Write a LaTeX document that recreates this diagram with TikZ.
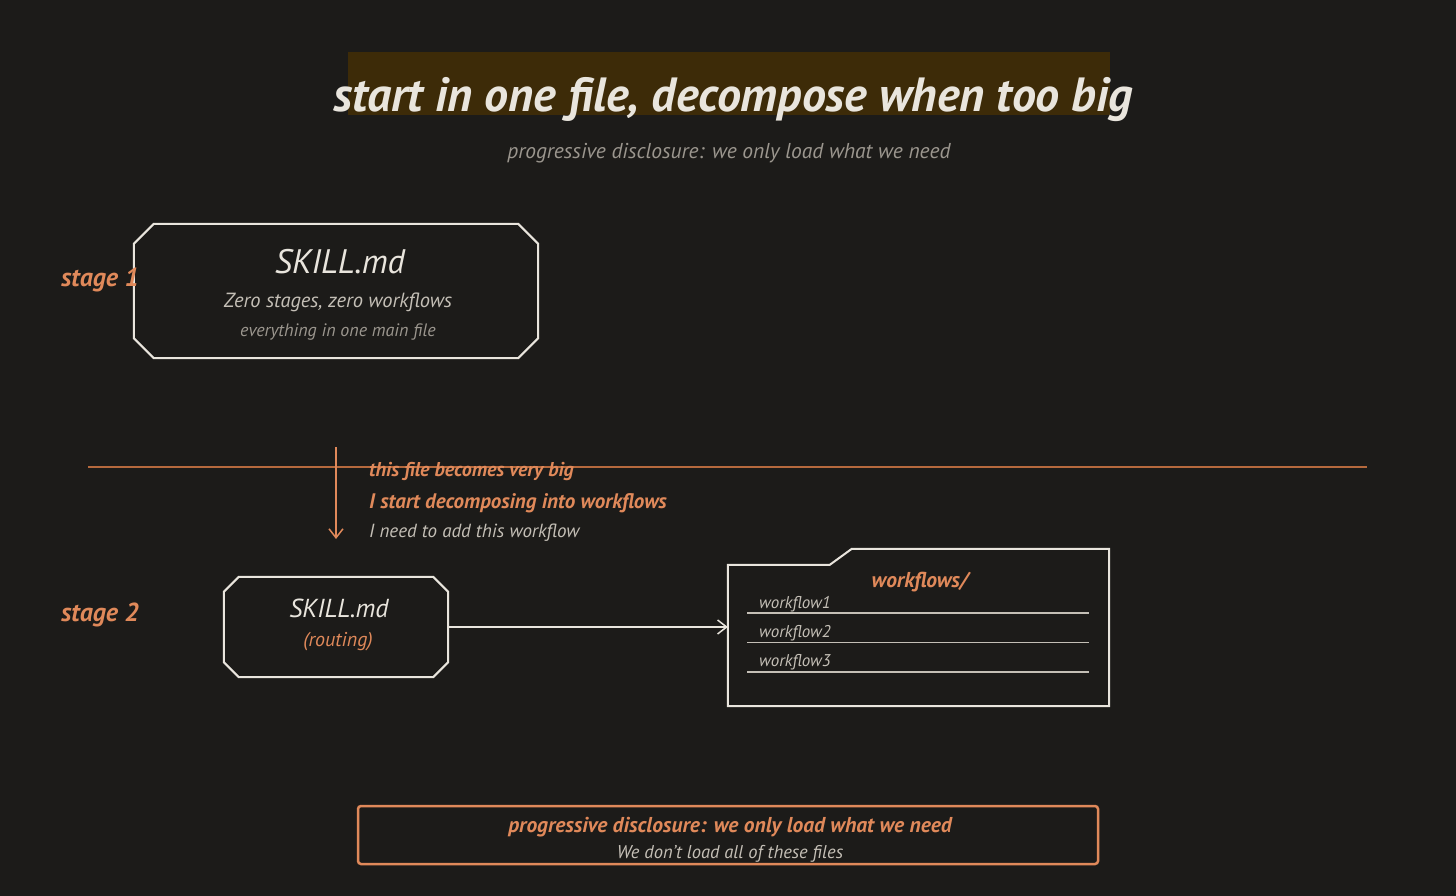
\documentclass[tikz,border=0pt]{standalone}
\usepackage{fontspec}
\setmainfont{PT Sans}
\usetikzlibrary{arrows.meta,positioning,calc}

\definecolor{bgdark}{HTML}{1C1B19}
\definecolor{hilite}{HTML}{3D2B08}
\definecolor{chalk}{HTML}{E9E5DD}
\definecolor{softgray}{HTML}{C4BFB6}
\definecolor{dimgray}{HTML}{9B968E}
\definecolor{rust}{HTML}{E0895A}
\definecolor{rustline}{HTML}{B5693D}

\newcommand{\fsz}[1]{\fontsize{#1}{#1}\selectfont\itshape}
% contour a coins coupes autour d'un noeud : nom, taille du coin
\newcommand{\chamfer}[2]{%
  \draw[chalk, line width=2pt]
    ($(#1.north west)+(#2,0)$) -- ($(#1.north east)+(-#2,0)$) -- ($(#1.north east)+(0,#2)$)
    -- ($(#1.south east)+(0,-#2)$) -- ($(#1.south east)+(-#2,0)$) -- ($(#1.south west)+(#2,0)$)
    -- ($(#1.south west)+(0,-#2)$) -- ($(#1.north west)+(0,#2)$) -- cycle;}

\begin{document}
\begin{tikzpicture}[x=1pt, y=-1pt,
  stagebox/.style={inner sep=0pt},
  stagelbl/.style={text=rust, font=\fsz{26}\bfseries},
  note/.style={anchor=west, inner sep=0pt},
  wfrow/.style={anchor=west, inner sep=0pt, text=softgray, font=\fsz{17}}]
% fond
\fill[bgdark] (0,0) rectangle (1456,896);
\useasboundingbox (0,0) rectangle (1456,896);

% titre
\fill[hilite] (348,52) rectangle (1110,115);
\node[text=chalk, font=\fsz{48}\bfseries] (title) at (733,100) {start in one file, decompose when too big};
\node[text=dimgray, font=\fsz{21.5}] (subtitle) at (729,153) {progressive disclosure: we only load what we need};

% stage 1
\node[stagebox, minimum width=404pt, minimum height=134pt] (s1) at (336,291) {};
\chamfer{s1}{20}
\node[text=chalk, font=\fsz{34}] (s1name) at (340,262) {SKILL.md};
\node[text=softgray, font=\fsz{20.5}] (s1desc) at (338,302) {Zero stages, zero workflows};
\node[text=dimgray, font=\fsz{18}] (s1note) at (338,332) {everything in one main file};
\node[stagelbl] (stage1) at (100,280) {stage 1};

% separation
\coordinate (sepL) at (88,467);
\coordinate (sepR) at (1367,467);
\draw[rustline, line width=1.2pt] (sepL) -- (sepR);
\coordinate (growA) at (336,447);
\coordinate (growB) at (336,539);
\draw[rust, line width=1.5pt, -{Straight Barb[length=9pt,width=14pt]}] (growA) -- (growB);
\node[note, text=rust, font=\fsz{20}\bfseries] (big) at (369,472) {this file becomes very big};
\node[note, text=rust, font=\fsz{21}\bfseries] (decomp) at (369,503) {I start decomposing into workflows};
\node[note, text=softgray, font=\fsz{19}] (addwf) at (369,533) {I need to add this workflow};

% stage 2
\node[stagebox, minimum width=224pt, minimum height=100pt] (s2) at (336,627) {};
\chamfer{s2}{15}
\node[text=chalk, font=\fsz{26}] (s2name) at (339,608) {SKILL.md};
\node[text=rust, font=\fsz{20}] (s2route) at (338,642) {(routing)};
\node[stagelbl] (stage2) at (100,615) {stage 2};

% dossier workflows/
\node[minimum width=381pt, minimum height=157pt, inner sep=0pt] (fold) at (918.5,627.5) {};
\draw[chalk, line width=2pt] ($(fold.north west)+(0,16)$) -- ($(fold.north west)+(102,16)$)
  -- ($(fold.north west)+(124,0)$) -- (fold.north east) -- (fold.south east)
  -- (fold.south west) -- cycle;
\node[text=rust, font=\fsz{21.5}\bfseries] (foldname) at (920,582) {workflows/};
\foreach \i in {1,2,3} {
  \node[wfrow] (wf\i) at (759,{604+29*(\i-1)}) {workflow\i};
  \draw[softgray, line width=1.2pt] (747,{613+29.5*(\i-1)}) -- (1089,{613+29.5*(\i-1)});
}
\draw[chalk, line width=1.5pt, -{Straight Barb[length=9pt,width=14pt]}] (s2.east) -- (s2.east -| fold.west);

% encadre bas
\node[draw=rust, line width=2.5pt, rounded corners=3pt, minimum width=740pt, minimum height=58pt] (recap) at (728,835) {};
\node[text=rust, font=\fsz{21.5}\bfseries] (recap1) at (730,827) {progressive disclosure: we only load what we need};
\node[text=softgray, font=\fsz{18.5}] (recap2) at (730,854) {We don't load all of these files};
\end{tikzpicture}
\end{document}
